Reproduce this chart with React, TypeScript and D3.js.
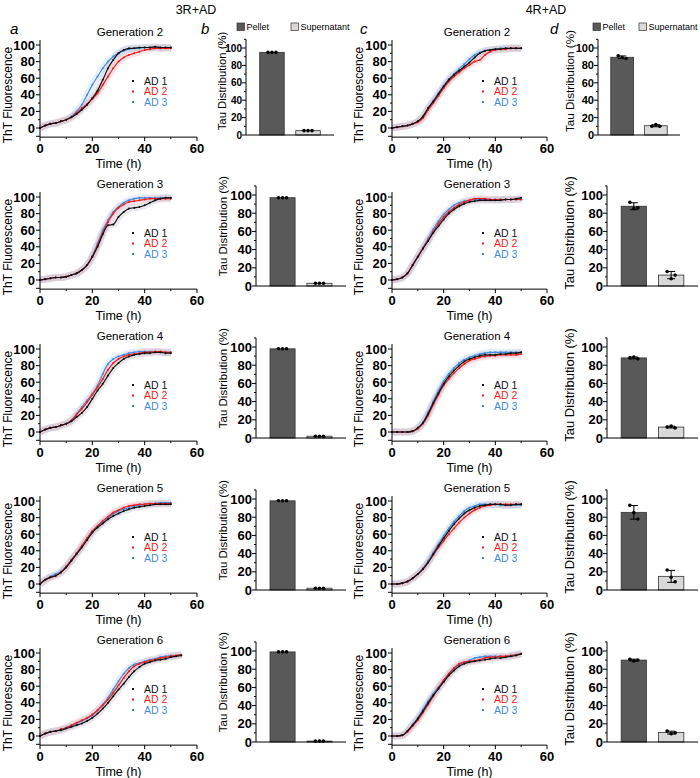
import * as d3 from "d3";

const FONT = "Liberation Sans, Arial, Helvetica, sans-serif";

// time points (h)
const time50 = [0, 2, 4, 6, 8, 10, 12, 14, 16, 18, 20, 22, 24, 26, 28, 30, 32, 34, 36, 38, 40, 42, 44, 46, 48, 50];
const time54 = [0, 2, 4, 6, 8, 10, 12, 14, 16, 18, 20, 22, 24, 26, 28, 30, 32, 34, 36, 38, 40, 42, 44, 46, 48, 50, 52, 54];

const seriesNames = ["AD 1", "AD 2", "AD 3"];
const seriesColors = ["#111111", "#f21c1c", "#3c8de0"];
const bandColors = ["#b7b7c4", "#f7a3a8", "#a9cdf3"];

const generations = ["Generation 2", "Generation 3", "Generation 4", "Generation 5", "Generation 6"];

// 3R+AD ThT curves, [AD 1, AD 2, AD 3]
const r3g2 = [
  [0, 3, 5, 6, 8, 10, 13, 17, 22, 28, 36, 45, 58, 72, 82, 90, 94, 96, 96, 97, 97, 97, 98, 97, 97, 97],
  [0, 3, 5, 6, 8, 10, 13, 18, 24, 29, 35, 42, 52, 62, 72, 80, 85, 88, 90, 92, 94, 95, 96, 96, 96, 96],
  [0, 3, 5, 6, 8, 10, 14, 20, 28, 40, 52, 62, 72, 80, 86, 90, 93, 95, 96, 96, 97, 97, 97, 97, 97, 97],
];
const r3g3 = [
  [0, 1, 2, 3, 3, 4, 6, 8, 12, 18, 28, 40, 55, 66, 67, 76, 82, 86, 87, 88, 90, 93, 96, 98, 99, 99],
  [0, 1, 2, 3, 3, 4, 6, 8, 12, 18, 28, 42, 57, 70, 80, 87, 91, 94, 95, 96, 97, 98, 98, 98, 98, 98],
  [0, 1, 2, 3, 3, 4, 6, 8, 12, 18, 29, 44, 60, 72, 82, 88, 93, 96, 98, 99, 99, 99, 99, 99, 99, 99],
];
const r3g4 = [
  [0, 3, 5, 6, 8, 10, 13, 18, 23, 30, 40, 50, 58, 68, 77, 83, 88, 91, 93, 94, 95, 95, 96, 96, 95, 95],
  [0, 3, 5, 6, 8, 10, 14, 21, 28, 36, 45, 54, 64, 75, 83, 88, 91, 93, 94, 95, 96, 96, 97, 97, 96, 96],
  [0, 3, 5, 6, 8, 10, 14, 22, 30, 38, 46, 56, 70, 82, 88, 91, 93, 95, 96, 97, 97, 97, 97, 96, 96, 96],
];
const r3g5 = [
  [0, 5, 8, 10, 14, 20, 28, 36, 44, 53, 62, 68, 73, 78, 82, 85, 88, 90, 92, 93, 94, 95, 96, 96, 96, 96],
  [0, 5, 8, 10, 14, 21, 29, 37, 46, 55, 64, 70, 76, 81, 86, 89, 92, 94, 95, 96, 96, 97, 97, 97, 97, 97],
  [0, 5, 9, 12, 15, 21, 29, 37, 46, 55, 63, 69, 75, 80, 84, 88, 90, 92, 94, 95, 96, 97, 97, 98, 98, 98],
];
const r3g6 = [
  [0, 3, 5, 6, 7, 9, 11, 13, 15, 18, 22, 27, 33, 40, 48, 56, 63, 71, 78, 83, 87, 89, 91, 92, 93, 95, 96, 97],
  [0, 3, 5, 6, 8, 10, 13, 16, 19, 22, 26, 31, 37, 44, 52, 61, 70, 78, 84, 87, 89, 91, 92, 94, 95, 96, 97, 98],
  [0, 3, 5, 6, 8, 10, 12, 15, 18, 21, 25, 31, 38, 46, 56, 66, 75, 82, 86, 88, 90, 92, 93, 95, 96, 97, 97, 98],
];

// 4R+AD ThT curves, [AD 1, AD 2, AD 3]
const r4g2 = [
  [0, 1, 2, 3, 5, 8, 14, 24, 32, 41, 50, 58, 64, 69, 74, 79, 85, 90, 93, 94, 95, 95, 96, 96, 96, 96],
  [0, 1, 2, 3, 5, 7, 12, 22, 30, 39, 48, 56, 62, 67, 72, 76, 80, 82, 88, 92, 94, 95, 95, 96, 96, 96],
  [0, 1, 2, 3, 5, 8, 14, 24, 33, 42, 51, 59, 65, 71, 77, 83, 88, 91, 93, 94, 95, 96, 96, 96, 96, 96],
];
const r4g3 = [
  [0, 1, 3, 8, 18, 28, 38, 47, 57, 65, 73, 80, 85, 89, 92, 94, 95, 96, 96, 96, 96, 96, 97, 97, 98, 99],
  [0, 1, 3, 8, 18, 28, 38, 48, 58, 68, 76, 82, 87, 91, 94, 96, 98, 98, 98, 97, 97, 97, 97, 97, 97, 97],
  [0, 1, 3, 8, 18, 28, 39, 50, 61, 71, 79, 85, 90, 93, 95, 96, 97, 97, 97, 97, 97, 97, 97, 97, 97, 97],
];
const r4g4 = [
  [0, 0, 0, 0, 1, 5, 11, 22, 35, 47, 58, 67, 74, 80, 85, 88, 90, 92, 93, 93, 93, 94, 94, 95, 95, 96],
  [0, 0, 0, 0, 1, 4, 10, 20, 33, 45, 56, 64, 71, 77, 82, 86, 88, 90, 91, 92, 92, 93, 93, 93, 93, 94],
  [0, 0, 0, 0, 1, 5, 12, 24, 37, 50, 61, 70, 77, 83, 87, 90, 92, 94, 95, 96, 96, 96, 96, 96, 96, 96],
];
const r4g5 = [
  [0, 0, 1, 3, 7, 12, 18, 26, 36, 46, 55, 64, 72, 79, 85, 89, 92, 94, 95, 96, 96, 96, 95, 95, 96, 96],
  [0, 0, 1, 3, 7, 12, 18, 26, 35, 44, 52, 60, 67, 74, 80, 85, 89, 92, 94, 95, 96, 96, 96, 96, 96, 96],
  [0, 0, 1, 3, 7, 12, 19, 28, 38, 48, 58, 67, 75, 82, 88, 92, 94, 96, 96, 96, 96, 95, 95, 95, 95, 95],
];
const r4g6 = [
  [0, 0, 1, 6, 13, 21, 30, 40, 49, 57, 65, 73, 79, 84, 87, 89, 90, 91, 92, 93, 94, 94, 95, 96, 97, 99],
  [0, 0, 1, 5, 12, 19, 28, 38, 48, 58, 67, 75, 82, 87, 89, 90, 91, 92, 94, 95, 95, 96, 96, 97, 98, 99],
  [0, 0, 1, 6, 14, 22, 32, 42, 51, 59, 67, 75, 81, 86, 89, 91, 94, 95, 96, 96, 96, 96, 96, 97, 98, 99],
];

const curves3R = [r3g2, r3g3, r3g4, r3g5, r3g6];
const times3R = [time50, time50, time50, time50, time54];
const curves4R = [r4g2, r4g3, r4g4, r4g5, r4g6];

// Tau distribution (%), three replicates per fraction
const fractions = ["Pellet", "Supernatant"];
const pellet3R = [[95, 95, 95], [97, 97, 97], [98, 98, 98], [98, 98, 98], [99, 99, 99]];
const super3R = [[5, 5, 5], [3, 3, 3], [2, 2, 2], [2, 2, 2], [1, 1, 1]];
const pellet4R = [[91, 89, 88], [92, 85, 86], [88, 89, 87], [93, 85, 78], [91, 89, 90]];
const super4R = [[10, 12, 10], [16, 8, 12], [12, 13, 11], [22, 14, 9], [12, 9, 10]];

const curveYTicks = [0, 20, 40, 60, 80, 100];
const curveYMinor = [10, 30, 50, 70, 90];
const curveXTicks = [0, 20, 40, 60];
const curveXMinor = [10, 30, 50];
const barYTicks = [0, 20, 40, 60, 80, 100];
const barYMinor = [10, 30, 50, 70, 90];

const barFill = ["#595959", "#d9d9d9"];

function CurvePanel({ x0, x1, y100, title, titleX, times, series, legendX, yLabelX }) {
  const x = d3.scaleLinear().domain([0, 60]).range([x0, x1]);
  const y = d3.scaleLinear().domain([0, 100]).range([y100 + 83, y100]);
  const axisY = y(-11);
  const line = d3
    .line<number>()
    .x((d, i) => x(times[i]))
    .y((d) => y(d))
    .curve(d3.curveMonotoneX);
  const order = [2, 1, 0];
  return (
    <g>
      <text x={titleX} y={y100 - 9} textAnchor="middle" fontSize={11.5}>
        {title}
      </text>
      {/* error bands */}
      {order.map((k) => (
        <path key={"b" + k} d={line(series[k]) || ""} fill="none" stroke={bandColors[k]} strokeWidth={7} strokeOpacity={0.3} strokeLinejoin="round" />
      ))}
      {order.map((k) => (
        <g key={"s" + k}>
          <path d={line(series[k]) || ""} fill="none" stroke={seriesColors[k]} strokeWidth={1.2} />
          {series[k].map((v, i) => (
            <circle key={i} cx={x(times[i])} cy={y(v)} r={1} fill={seriesColors[k]} />
          ))}
        </g>
      ))}
      {/* y axis */}
      <line x1={x0} x2={x0} y1={y(106)} y2={axisY} stroke="#000" />
      {curveYTicks.map((t) => (
        <g key={t}>
          <line x1={x0 - 4} x2={x0} y1={y(t)} y2={y(t)} stroke="#000" />
          <text x={x0 - 5} y={y(t)} dy="0.36em" textAnchor="end" fontSize={13} fontWeight="bold">
            {t}
          </text>
        </g>
      ))}
      {curveYMinor.map((t) => (
        <line key={t} x1={x0 - 2} x2={x0} y1={y(t)} y2={y(t)} stroke="#000" />
      ))}
      <line x1={x0 - 4} x2={x0} y1={y(-10)} y2={y(-10)} stroke="#000" />
      {/* x axis */}
      <line x1={x0} x2={x1} y1={axisY} y2={axisY} stroke="#000" />
      {curveXTicks.map((t) => (
        <g key={t}>
          <line x1={x(t)} x2={x(t)} y1={axisY} y2={axisY + 4} stroke="#000" />
          <text x={x(t)} y={axisY + 16} textAnchor="middle" fontSize={13} fontWeight="bold">
            {t}
          </text>
        </g>
      ))}
      {curveXMinor.map((t) => (
        <line key={t} x1={x(t)} x2={x(t)} y1={axisY} y2={axisY + 2} stroke="#000" />
      ))}
      <text x={x(30)} y={axisY + 31} textAnchor="middle" fontSize={12.5}>
        Time (h)
      </text>
      <text transform={`translate(${yLabelX},${y100 + 50}) rotate(-90)`} textAnchor="middle" fontSize={12}>
        ThT Fluorescence
      </text>
      {/* legend */}
      {seriesNames.map((n, k) => (
        <g key={n}>
          <rect x={legendX - 1} y={y100 + 35 + k * 10.5} width={2} height={2} fill={seriesColors[k]} />
          <text x={legendX + 11} y={y100 + 36 + k * 10.5} dy="0.36em" fontSize={10.5} fill={seriesColors[k]}>
            {n}
          </text>
        </g>
      ))}
    </g>
  );
}

function BarPanel({ x0, x1, y100, y0, pellet, sup, labelX, labelY, labelSize, tickSize }) {
  const x = d3.scaleBand().domain(fractions).range([x0, x1]).paddingInner(0.32).paddingOuter(0.38);
  const y = d3.scaleLinear().domain([0, 100]).range([y0, y100]);
  const groups = [pellet, sup];
  const jitter = [-4, 0, 4];
  return (
    <g>
      {groups.map((pts, k) => {
        const m = d3.mean(pts) || 0;
        const sd = d3.deviation(pts) || 0;
        const cx = (x(fractions[k]) || 0) + x.bandwidth() / 2;
        return (
          <g key={k}>
            <rect x={x(fractions[k])} y={y(m)} width={x.bandwidth()} height={y0 - y(m)} fill={barFill[k]} stroke="#333" strokeWidth={0.8} />
            {sd > 0 && (
              <g stroke="#000" strokeWidth={1}>
                <line x1={cx} x2={cx} y1={y(m - sd)} y2={y(m + sd)} />
                <line x1={cx - 4} x2={cx + 4} y1={y(m + sd)} y2={y(m + sd)} />
                <line x1={cx - 4} x2={cx + 4} y1={y(m - sd)} y2={y(m - sd)} />
              </g>
            )}
            {pts.map((v, i) => (
              <circle key={i} cx={cx + jitter[i]} cy={y(v)} r={1.8} fill="#000" />
            ))}
          </g>
        );
      })}
      <line x1={x0} x2={x0} y1={y(110)} y2={y0} stroke="#000" />
      <line x1={x0} x2={x1} y1={y0} y2={y0} stroke="#000" />
      {barYTicks.map((t) => (
        <g key={t}>
          <line x1={x0 - 4} x2={x0} y1={y(t)} y2={y(t)} stroke="#000" />
          <text x={x0 - 4} y={y(t)} dy="0.36em" textAnchor="end" fontSize={tickSize} fontWeight="bold">
            {t}
          </text>
        </g>
      ))}
      {barYMinor.map((t) => (
        <line key={t} x1={x0 - 2} x2={x0} y1={y(t)} y2={y(t)} stroke="#000" />
      ))}
      <line x1={x0 - 2} x2={x0} y1={y(110)} y2={y(110)} stroke="#000" />
      <text transform={`translate(${labelX},${labelY}) rotate(-90)`} textAnchor="middle" fontSize={labelSize}>
        Tau Distribution (%)
      </text>
    </g>
  );
}

function BarLegend({ x, y, gap }) {
  return (
    <g fontSize={9}>
      {fractions.map((f, k) => (
        <g key={f}>
          <rect x={x + k * gap} y={y - 4} width={7.5} height={7.5} fill={barFill[k]} stroke="#333" strokeWidth={0.7} />
          <text x={x + k * gap + 9.5} y={y} dy="0.36em">
            {f}
          </text>
        </g>
      ))}
    </g>
  );
}

export default function App() {
  const rowStep = 152;
  return (
    <svg width={700} height={778} style={{ position: "absolute", left: 0, top: 0, background: "#fff" }} fontFamily={FONT}>
      <rect width={700} height={778} fill="#fff" />
      <text x={196} y={14} textAnchor="middle" fontSize={12.5}>3R+AD</text>
      <text x={546} y={14} textAnchor="middle" fontSize={12.5}>4R+AD</text>
      <text x={10} y={34} fontSize={15} fontStyle="italic">a</text>
      <text x={201} y={34} fontSize={15} fontStyle="italic">b</text>
      <text x={360} y={34} fontSize={15} fontStyle="italic">c</text>
      <text x={550} y={34} fontSize={15} fontStyle="italic">d</text>

      {generations.map((g, i) => (
        <g key={"a" + i}>
          <CurvePanel x0={40} x1={197} y100={45 + rowStep * i} title={g} titleX={130} times={times3R[i]} series={curves3R[i]} legendX={133} yLabelX={12} />
          <CurvePanel x0={392} x1={547} y100={45 + rowStep * i} title={g} titleX={477} times={time50} series={curves4R[i]} legendX={483} yLabelX={363} />
        </g>
      ))}

      {generations.map((g, i) => {
        const first = i === 0;
        const y100 = first ? 48 : 195 + rowStep * (i - 1);
        const y0 = first ? 135 : y100 + 91;
        return (
          <g key={"b" + i}>
            <BarPanel
              x0={first ? 246 : 256}
              x1={first ? 334 : 346}
              y100={y100}
              y0={y0}
              pellet={pellet3R[i]}
              sup={super3R[i]}
              labelX={first ? 226 : 227}
              labelY={first ? 81 : y100 + 31}
              labelSize={first ? 11.3 : 11.5}
              tickSize={first ? 10 : 13}
            />
            <BarPanel
              x0={first ? 598 : 607}
              x1={first ? 680 : 698}
              y100={y100}
              y0={y0}
              pellet={pellet4R[i]}
              sup={super4R[i]}
              labelX={574}
              labelY={first ? 81 : y100 + 38}
              labelSize={first ? 11.7 : 13}
              tickSize={first ? 11 : 13}
            />
          </g>
        );
      })}

      <BarLegend x={237} y={27} gap={54} />
      <BarLegend x={593} y={27} gap={46} />
    </svg>
  );
}
